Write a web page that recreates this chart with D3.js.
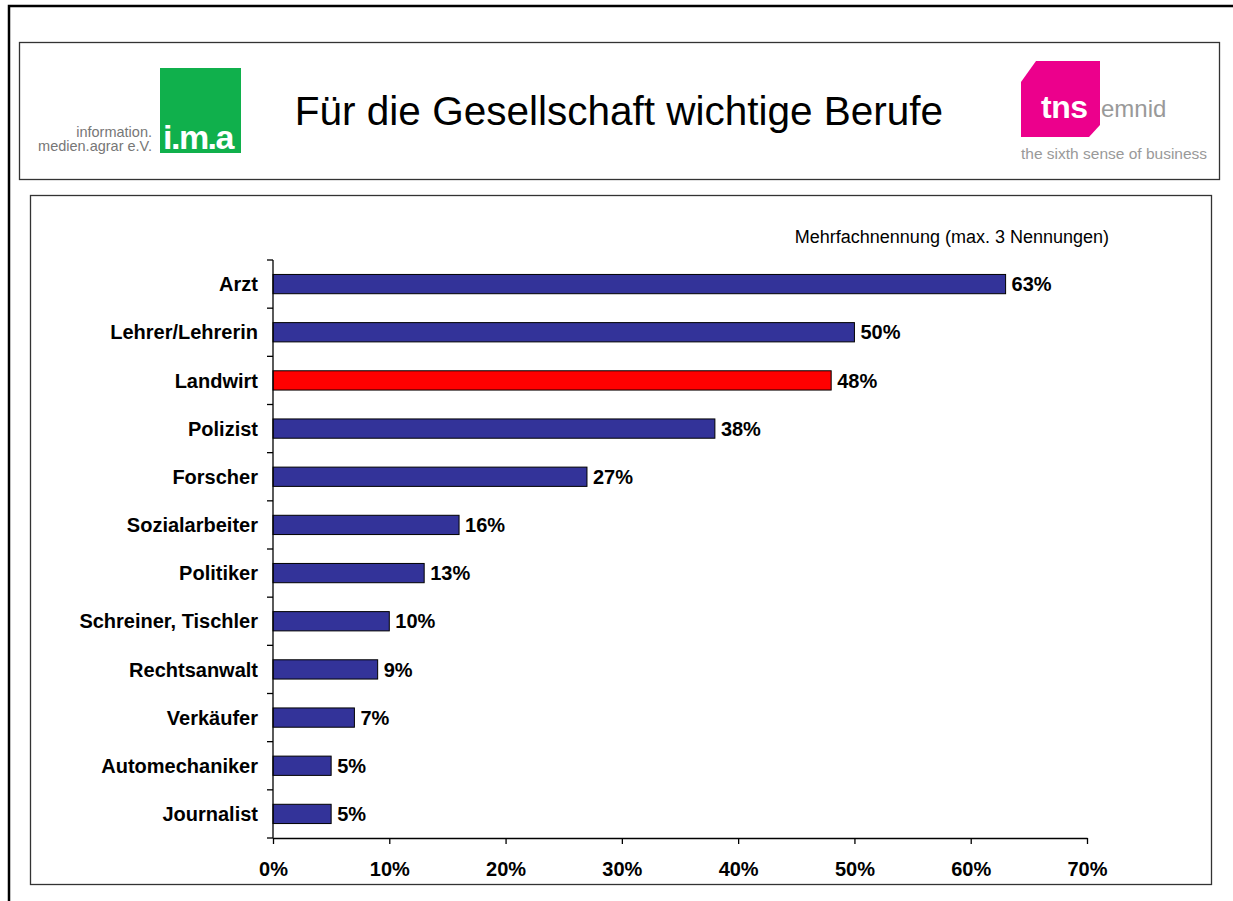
<!DOCTYPE html>
<html>
<head>
<meta charset="utf-8">
<script src="https://cdn.jsdelivr.net/npm/d3@7"></script>
<style>
  body { margin: 0; background: #fff; overflow: hidden; }
  svg { display: block; font-family: "Liberation Sans", Arial, sans-serif; }
</style>
</head>
<body>
<svg id="chart" width="1233" height="901"></svg>
<script>
const categories = ["Arzt", "Lehrer/Lehrerin", "Landwirt", "Polizist", "Forscher", "Sozialarbeiter",
  "Politiker", "Schreiner, Tischler", "Rechtsanwalt", "Verkäufer", "Automechaniker", "Journalist"]
const values = [63, 50, 48, 38, 27, 16, 13, 10, 9, 7, 5, 5]
const highlight = ["Landwirt"]
const xTicks = [0, 10, 20, 30, 40, 50, 60, 70]

const title = "Für die Gesellschaft wichtige Berufe"
const note = "Mehrfachnennung (max. 3 Nennungen)"

const svg = d3.select("#chart")

// Rahmen
svg.append("path").attr("d", "M9,901 V6 H1233").attr("fill", "none").attr("stroke", "#000").attr("stroke-width", 2.5)
svg.append("rect").attr("x", 19.5).attr("y", 42.5).attr("width", 1200).attr("height", 137)
  .attr("fill", "#fff").attr("stroke", "#333").attr("stroke-width", 1.3)
svg.append("rect").attr("x", 30.5).attr("y", 195.5).attr("width", 1181).attr("height", 689)
  .attr("fill", "#fff").attr("stroke", "#333").attr("stroke-width", 1.3)

// Kopfzeile
svg.append("text").attr("x", 619).attr("y", 125).attr("text-anchor", "middle")
  .attr("font-size", 40.5).attr("fill", "#000").text(title)

// i.m.a Logo
svg.append("rect").attr("x", 160).attr("y", 68).attr("width", 81).attr("height", 85).attr("fill", "#10b04c")
svg.append("text").attr("x", 163).attr("y", 149).attr("font-size", 34).attr("font-weight", "bold")
  .attr("fill", "#fff").attr("letter-spacing", -1.5).text("i.m.a")
svg.append("text").attr("x", 152).attr("y", 137).attr("text-anchor", "end").attr("font-size", 14.5)
  .attr("fill", "#777").text("information.")
svg.append("text").attr("x", 152).attr("y", 151).attr("text-anchor", "end").attr("font-size", 14.5)
  .attr("fill", "#777").text("medien.agrar e.V.")

// tns emnid Logo
svg.append("path").attr("d", "M1036,61 H1100 V125 L1089,137 H1021 V82 Z").attr("fill", "#ec008c")
svg.append("text").attr("x", 1041).attr("y", 118).attr("font-size", 32).attr("font-weight", "bold")
  .attr("fill", "#fff").attr("letter-spacing", -0.5).text("tns")
svg.append("text").attr("x", 1101).attr("y", 117).attr("font-size", 24).attr("fill", "#999").text("emnid")
svg.append("text").attr("x", 1021).attr("y", 159).attr("font-size", 15.5).attr("fill", "#999")
  .text("the sixth sense of business")

// Diagramm
const margin = { left: 273, top: 260, right: 1087, bottom: 838 }

const x = d3.scaleLinear().domain([0, 70]).range([margin.left, margin.right])
const y = d3.scaleBand().domain(categories).range([margin.top, margin.bottom]).paddingInner(0.6).paddingOuter(0.3)
const yBand = d3.scaleBand().domain(categories).range([margin.top, margin.bottom])

svg.append("text").attr("x", 1109).attr("y", 243).attr("text-anchor", "end")
  .attr("font-size", 18).attr("fill", "#000").text(note)

const data = categories.map((c, i) => ({ name: c, value: values[i] }))

svg.selectAll(".bar").data(data).enter().append("rect")
  .attr("class", "bar")
  .attr("x", x(0))
  .attr("y", (d) => y(d.name))
  .attr("width", (d) => x(d.value) - x(0))
  .attr("height", y.bandwidth())
  .attr("fill", (d) => (highlight.includes(d.name) ? "#ff0000" : "#333399"))
  .attr("stroke", "#000")
  .attr("stroke-width", 1)

svg.selectAll(".val").data(data).enter().append("text")
  .attr("class", "val")
  .attr("x", (d) => x(d.value) + 6)
  .attr("y", (d) => y(d.name) + y.bandwidth() / 2)
  .attr("dy", "0.36em")
  .attr("font-size", 20).attr("font-weight", "bold")
  .text((d) => d.value + "%")

// x-Achse
const xAxis = svg.append("g").attr("transform", `translate(0,${margin.bottom})`)
  .call(d3.axisBottom(x).tickValues(xTicks).tickSize(6).tickSizeOuter(0).tickFormat((d) => d + "%"))
xAxis.select(".domain").attr("stroke", "#000").attr("stroke-width", 1.3)
xAxis.selectAll(".tick line").attr("stroke", "#000").attr("stroke-width", 1.3)
xAxis.selectAll(".tick text").attr("font-size", 20).attr("font-weight", "bold")
  .attr("font-family", "'Liberation Sans', Arial, sans-serif").attr("fill", "#000").attr("dy", "1.45em")

// y-Achse
svg.append("line").attr("x1", x(0)).attr("x2", x(0)).attr("y1", margin.top).attr("y2", margin.bottom)
  .attr("stroke", "#000").attr("stroke-width", 1.3)
const boundaries = categories.map((c) => yBand(c)).concat([margin.bottom])
svg.selectAll(".ytick").data(boundaries).enter().append("line")
  .attr("class", "ytick")
  .attr("x1", x(0) - 6).attr("x2", x(0))
  .attr("y1", (d) => d).attr("y2", (d) => d)
  .attr("stroke", "#000").attr("stroke-width", 1.3)

svg.selectAll(".ylab").data(categories).enter().append("text")
  .attr("class", "ylab")
  .attr("x", x(0) - 15)
  .attr("y", (d) => yBand(d) + yBand.bandwidth() / 2)
  .attr("dy", "0.36em")
  .attr("text-anchor", "end")
  .attr("font-size", 20).attr("font-weight", "bold")
  .text((d) => d)
</script>
</body>
</html>
